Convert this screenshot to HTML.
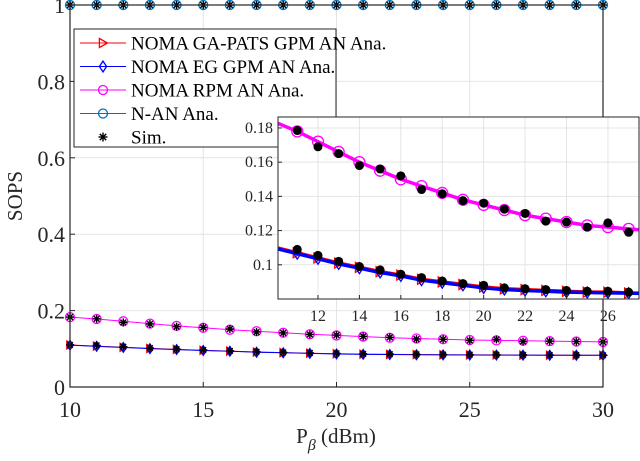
<!DOCTYPE html>
<html><head><meta charset="utf-8"><style>
html,body{margin:0;padding:0;background:#fff}
svg,svg text{font-family:"Liberation Serif","Times New Roman",serif}
</style></head><body>
<svg id="c" width="640" height="456" viewBox="0 0 640 456" xmlns="http://www.w3.org/2000/svg" font-family="Liberation Serif, serif"></svg>
<script>
const xs=[10,11,12,13,14,15,16,17,18,19,20,21,22,23,24,25,26,27,28,29,30];
const gpmVals=[0.110,0.107,0.104,0.101,0.0985,0.096,0.094,0.0915,0.090,0.0885,0.087,0.086,0.0855,0.085,0.0845,0.084,0.084,0.0835,0.0833,0.0832,0.083];
const egVals=[0.1095,0.1065,0.1035,0.1005,0.098,0.0955,0.0935,0.091,0.0895,0.088,0.0865,0.0855,0.085,0.0845,0.084,0.0838,0.0836,0.0834,0.0832,0.0831,0.083];
const rpmVals=[0.183,0.178,0.172,0.166,0.160,0.155,0.150,0.146,0.142,0.138,0.135,0.132,0.129,0.127,0.125,0.123,0.122,0.121,0.120,0.119,0.118];
const nanVals=[1,1,1,1,1,1,1,1,1,1,1,1,1,1,1,1,1,1,1,1,1];
const simRpm=[0.183,0.1785,0.169,0.165,0.158,0.156,0.152,0.144,0.1415,0.1375,0.136,0.1325,0.130,0.1255,0.125,0.122,0.1245,0.119,0.120,0.119,0.118];
const simGpm=[0.110,0.109,0.1055,0.102,0.099,0.097,0.0945,0.0925,0.0905,0.089,0.088,0.0865,0.086,0.0855,0.085,0.0845,0.0845,0.084,0.0835,0.0833,0.083];
const xTicks=[10,15,20,25,30];
const yTicks=[0,0.2,0.4,0.6,0.8,1];
const yTickLabels=["0","0.2","0.4","0.6","0.8","1"];
const inXTicks=[12,14,16,18,20,22,24,26];
const inYTicks=[0.1,0.12,0.14,0.16,0.18];
const inYTickLabels=["0.1","0.12","0.14","0.16","0.18"];

const svg=document.getElementById('c');
const NS='http://www.w3.org/2000/svg';
function mk(t,a,p){const e=document.createElementNS(NS,t);for(const k in a)e.setAttribute(k,a[k]);(p||svg).appendChild(e);return e;}
function axis(x0,x1,px0,px1){return v=>px0+(v-x0)/(x1-x0)*(px1-px0);}

const L=70,R=603,T=5,B=387;
const X=axis(10,30,L,R), Y=axis(0,1,B,T);
mk('rect',{x:L,y:T,width:R-L,height:B-T,fill:'#fff'});
const grid=mk('g',{stroke:'#e4e4e4','stroke-width':1});


xTicks.forEach(v=>mk('line',{x1:X(v),x2:X(v),y1:T,y2:B},grid));
yTicks.forEach(v=>mk('line',{x1:L,x2:R,y1:Y(v),y2:Y(v)},grid));

function series(g,vals,Xf,Yf,color,w,marker,size){
  mk('polyline',{points:xs.map((x,i)=>Xf(x)+','+Yf(vals[i])).join(' '),fill:'none',stroke:color,'stroke-width':w},g);
  xs.forEach((x,i)=>drawMarker(g,marker,Xf(x),Yf(vals[i]),color,size));
}
function drawMarker(g,m,x,y,c,s){
  if(m==='tri')mk('path',{d:`M${x-s*0.8},${y-s}L${x+s},${y}L${x-s*0.8},${y+s}Z`,fill:'none',stroke:c,'stroke-width':1.3},g);
  else if(m==='dia')mk('path',{d:`M${x},${y-s*1.2}L${x+s*0.8},${y}L${x},${y+s*1.2}L${x-s*0.8},${y}Z`,fill:'none',stroke:c,'stroke-width':1.3},g);
  else if(m==='circ')mk('circle',{cx:x,cy:y,r:s,fill:'none',stroke:c,'stroke-width':1.3},g);
  else if(m==='star'){for(let a=0;a<4;a++){const an=a*Math.PI/4;mk('line',{x1:x-s*Math.cos(an),y1:y-s*Math.sin(an),x2:x+s*Math.cos(an),y2:y+s*Math.sin(an),stroke:c,'stroke-width':1.4},g);}}
  else if(m==='dot')mk('circle',{cx:x,cy:y,r:s,fill:c},g);
}
function grp(n){const g=mk('g',{});return g;}

series(grp('series-ga-pats'),gpmVals,X,Y,'#ff0000',1,'tri',4);
series(grp('series-eg'),egVals,X,Y,'#0000ff',1,'dia',4);
series(grp('series-rpm'),rpmVals,X,Y,'#ff00ff',1,'circ',4.5);
series(grp('series-nan'),nanVals,X,Y,'#0072bd',1,'circ',4.5);
const sg=grp('series-sim');
xs.forEach((x,i)=>{drawMarker(sg,'star',X(x),Y(simRpm[i]),'#000',4);drawMarker(sg,'star',X(x),Y(simGpm[i]),'#000',4);drawMarker(sg,'star',X(x),Y(nanVals[i]),'#000',4);});

mk('rect',{x:L,y:T,width:R-L,height:B-T,fill:'none',stroke:'#262626','stroke-width':1.2});
const tg=grp('main-ticks');
xTicks.forEach(v=>{mk('line',{x1:X(v),x2:X(v),y1:B,y2:B-5,stroke:'#262626'},tg);const t=mk('text',{x:X(v),y:417,'font-size':22,'text-anchor':'middle',fill:'#262626'},tg);t.textContent=v;});
yTicks.forEach((v,i)=>{mk('line',{x1:L,x2:L+5,y1:Y(v),y2:Y(v),stroke:'#262626'},tg);const t=mk('text',{x:L-5,y:Y(v)+8,'font-size':22,'text-anchor':'end',fill:'#262626'},tg);t.textContent=yTickLabels[i];});

const lg=grp('legend');
mk('rect',{x:74,y:29,width:262,height:118,fill:'#fff',stroke:'#262626','stroke-width':1},lg);
const leg=[['NOMA GA-PATS GPM AN Ana.','#ff0000','tri'],['NOMA EG GPM AN Ana.','#0000ff','dia'],['NOMA RPM AN Ana.','#ff00ff','circ'],['N-AN Ana.','#0072bd','circ'],['Sim.','#000','star']];
leg.forEach((e,i)=>{const y=43+i*23.5;const eg=grp('legend-entry');lg.appendChild(eg);
  if(e[2]!=='star')mk('line',{x1:80,x2:126,y1:y,y2:y,stroke:e[1],'stroke-width':1},eg);
  drawMarker(eg,e[2],103,y,e[1],4.5);
  const t=mk('text',{x:131,y:y+6.5,'font-size':19,fill:'#000'},eg);t.textContent=e[0];});

const IL=278,IR=639,IT=117,IB=299;
const IX=axis(10.07,27.5,IL,IR), IY=axis(0.08,0.1864,IB,IT);
const ig=grp('inset-chart');
mk('rect',{x:IL,y:IT,width:IR-IL,height:IB-IT,fill:'#fff'},ig);
const igrid=mk('g',{stroke:'#e4e4e4','stroke-width':1},ig);
inXTicks.forEach(v=>mk('line',{x1:IX(v),x2:IX(v),y1:IT,y2:IB},igrid));
inYTicks.forEach(v=>mk('line',{x1:IL,x2:IR,y1:IY(v),y2:IY(v)},igrid));
const clip=mk('clipPath',{id:'ic'},ig);mk('rect',{x:IL,y:IT,width:IR-IL,height:IB-IT},clip);
const ic=mk('g',{'clip-path':'url(#ic)'},ig);
const sub=xs.slice(0,19);
function iseries(vals,color,marker,size){mk('polyline',{points:sub.map((x,i)=>IX(x)+','+IY(vals[i])).join(' '),fill:'none',stroke:color,'stroke-width':3.5},ic);sub.forEach((x,i)=>{if(x>10)drawMarker(ic,marker,IX(x),IY(vals[i]),color,size);});}
iseries(gpmVals,'#ff0000','tri',5);
iseries(rpmVals,'#ff00ff','circ',5.5);
iseries(egVals,'#0000ff','dia',4.5);
sub.forEach((x,i)=>{if(x>10&&x<28){drawMarker(ic,'dot',IX(x),IY(simRpm[i]),'#000',4.5);drawMarker(ic,'dot',IX(x),IY(simGpm[i]),'#000',4.5);}});
mk('rect',{x:IL,y:IT,width:IR-IL,height:IB-IT,fill:'none',stroke:'#262626','stroke-width':1},ig);
inXTicks.forEach(v=>{mk('line',{x1:IX(v),x2:IX(v),y1:IB,y2:IB-4,stroke:'#262626'},ig);const t=mk('text',{x:IX(v),y:321,'font-size':16,'text-anchor':'middle',fill:'#262626'},ig);t.textContent=v;});
inYTicks.forEach((v,i)=>{mk('line',{x1:IL,x2:IL+4,y1:IY(v),y2:IY(v),stroke:'#262626'},ig);const t=mk('text',{x:IL-5,y:IY(v)+5,'font-size':16,'text-anchor':'end',fill:'#262626'},ig);t.textContent=inYTickLabels[i];});

const yt=mk('text',{x:22,y:196,'font-size':21,'text-anchor':'middle',transform:'rotate(-90 22 196)',fill:'#262626'});
yt.textContent='SOPS';
const xt=mk('text',{x:336,y:443,'font-size':21,'text-anchor':'middle',fill:'#262626'});

xt.innerHTML='P<tspan font-size="16" dy="7" font-style="italic">β</tspan><tspan dy="-7"> (dBm)</tspan>';
</script>
</body></html>
